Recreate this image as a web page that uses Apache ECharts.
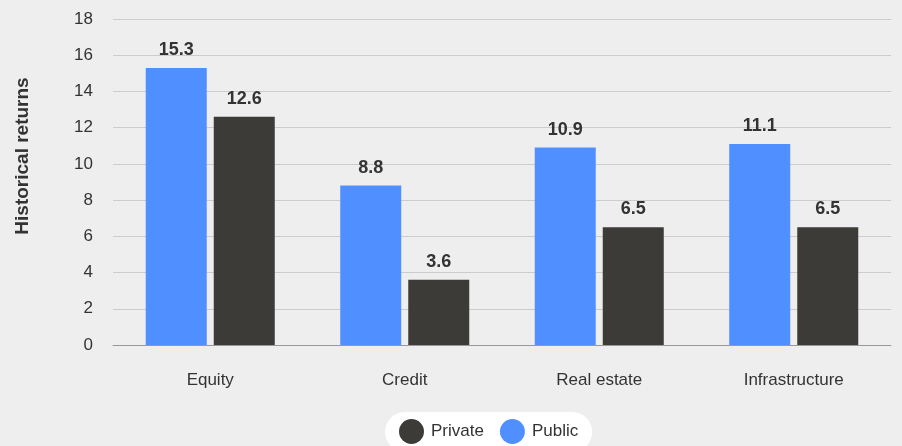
<!DOCTYPE html>
<html><head><meta charset="utf-8">
<script src="https://cdn.jsdelivr.net/npm/echarts@6/dist/echarts.min.js"></script>
<style>html,body{margin:0;padding:0;background:#eeeeee;}#c{width:902px;height:446px;}</style>
</head><body><div id="c"></div>
<script>
const categories = ['Equity', 'Credit', 'Real estate', 'Infrastructure'];
const publicValues = [15.3, 8.8, 10.9, 11.1];
const privateValues = [12.6, 3.6, 6.5, 6.5];
const yTicks = [0, 2, 4, 6, 8, 10, 12, 14, 16, 18];
const yAxisTitle = 'Historical returns';

const chart = echarts.init(document.getElementById('c'));
const font = 'Liberation Sans, Arial, Helvetica, sans-serif';
chart.setOption({
  backgroundColor: '#eeeeee',
  textStyle: { fontFamily: font },
  grid: { left: 113, right: 11, top: 19, bottom: 101 },
  graphic: [{
    type: 'text',
    x: 23, y: 156,
    rotation: Math.PI / 2,
    style: {
      text: yAxisTitle,
      fontSize: 19, fontWeight: 'bold', fill: '#333', fontFamily: font,
      textAlign: 'center', textVerticalAlign: 'middle'
    }
  }],
  legend: {
    data: ['Private', 'Public'],
    top: 412,
    left: 385,
    icon: 'circle',
    itemWidth: 25, itemHeight: 25,
    itemGap: 16,
    backgroundColor: '#ffffff',
    borderRadius: 20,
    padding: [7, 14, 8, 14],
    textStyle: { fontSize: 17, color: '#333', fontFamily: font, padding: [0, 0, 0, 2] }
  },
  xAxis: {
    type: 'category',
    data: categories,
    axisLine: { lineStyle: { color: '#999', width: 1 } },
    axisTick: { show: false },
    axisLabel: { fontSize: 17, color: '#333', margin: 27, fontFamily: font }
  },
  yAxis: {
    type: 'value',
    min: yTicks[0], max: yTicks[yTicks.length - 1], interval: 2,
    axisLine: { show: false },
    axisTick: { show: false },
    axisLabel: { fontSize: 17, color: '#333', margin: 20, fontFamily: font },
    splitLine: { lineStyle: { color: '#cccccc', width: 1 } }
  },
  series: [
    {
      name: 'Public', type: 'bar', data: publicValues,
      barWidth: 61, barGap: '11.5%',
      itemStyle: { color: '#4f8fff' },
      label: { show: true, position: 'top', distance: 9, fontSize: 18, fontWeight: 'bold', color: '#333', fontFamily: font }
    },
    {
      name: 'Private', type: 'bar', data: privateValues,
      barWidth: 61, barGap: '11.5%',
      itemStyle: { color: '#3d3b38' },
      label: { show: true, position: 'top', distance: 9, fontSize: 18, fontWeight: 'bold', color: '#333', fontFamily: font }
    }
  ]
});
</script></body></html>
